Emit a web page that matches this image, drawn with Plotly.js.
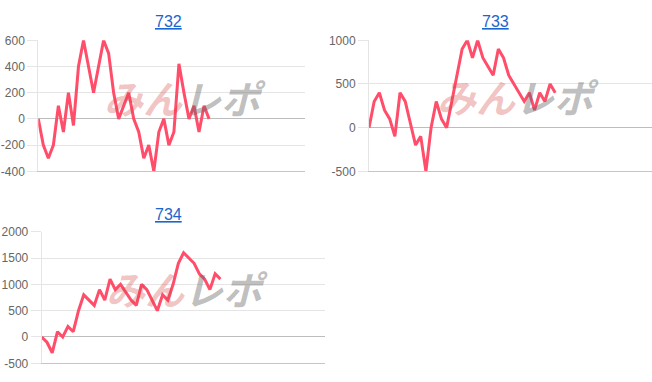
<!DOCTYPE html>
<html>
<head>
<meta charset="utf-8">
<script src="https://cdn.plot.ly/plotly-3.0.1.min.js"></script>
<style>html,body{margin:0;padding:0;background:#fff;}#chart{width:652px;height:382px;}</style>
</head>
<body>
<div id="chart"></div>
<script>
// Chart titles (machine numbers)
const titles = ["732", "733", "734"];

// Series values (one point per game step)
const values732 = [0, -200, -300, -200, 100, -100, 200, -50, 400, 600, 400, 200, 400, 600, 500, 200, 0, 100, 200, 0, -100, -300, -200, -400, -100, 0, -200, -100, 420, 200, 0, 100, -100, 100, 0];
const values733 = [0, 300, 400, 200, 100, -100, 400, 300, 50, -200, -100, -500, 0, 300, 100, 0, 300, 600, 900, 1000, 800, 1000, 800, 700, 600, 900, 800, 600, 500, 400, 300, 400, 200, 400, 300, 500, 400];
const values734 = [0, -100, -300, 100, 0, 200, 100, 500, 800, 700, 600, 900, 700, 1100, 900, 1000, 850, 700, 600, 1000, 900, 700, 500, 800, 700, 1000, 1400, 1600, 1500, 1400, 1200, 1100, 900, 1200, 1100];

// Y tick values
const yTicks732 = [-400, -200, 0, 200, 400, 600];
const yTicks733 = [-500, 0, 500, 1000];
const yTicks734 = [-500, 0, 500, 1000, 1500, 2000];

const W = 652, H = 382;
const idx = arr => arr.map((_, i) => i);
const lineColor = "rgb(255,77,106)";
const mk = (vals, xa, ya) => ({
  x: idx(vals), y: vals, xaxis: xa, yaxis: ya, type: "scatter", mode: "lines",
  line: {color: lineColor, width: 3}, hoverinfo: "skip"
});

const traces = [mk(values732, "x", "y"), mk(values733, "x2", "y2"), mk(values734, "x3", "y3")];

const px = v => v / W;
const py = v => 1 - v / H;

const xa = (dom, range, anchor) => ({
  domain: dom, range: range, anchor: anchor, showgrid: false, zeroline: false,
  showticklabels: false, ticks: "", showline: true, linecolor: "#c6c6c6", linewidth: 1, fixedrange: true
});
const ya = (dom, range, ticks, anchor) => ({
  domain: dom, range: range, anchor: anchor, tickvals: ticks, ticktext: ticks.map(String),
  showgrid: true, gridcolor: "#e5e5e5", gridwidth: 1,
  zeroline: true, zerolinecolor: "#bdbdbd", zerolinewidth: 1,
  showline: true, linecolor: "#e5e5e5", linewidth: 1,
  ticks: "outside", ticklen: 10, tickcolor: "#e5e5e5", tickwidth: 1,
  tickfont: {family: "Liberation Sans, Arial, sans-serif", size: 12, color: "#666"},
  fixedrange: true
});

const topDom = [py(171.3), py(40.3)];
const botDom = [py(363.3), py(231.7)];

const titleAnn = (t, x, y) => ({
  text: '<span style="text-decoration:underline">' + t + '</span>', xref: "paper", yref: "paper",
  x: x, y: y, xanchor: "center", yanchor: "middle", showarrow: false,
  font: {family: "Liberation Sans, Arial, sans-serif", size: 16, color: "#1a66cc"}
});
const wmAnn = (x, y) => ({
  text: '<i><b><span style="color:rgba(214,70,70,0.32)">みん</span><span style="color:rgba(100,100,100,0.42)">レポ</span></b></i>',
  xref: "paper", yref: "paper", x: x, y: y, xanchor: "center", yanchor: "middle", showarrow: false,
  font: {family: "Noto Sans CJK JP, sans-serif", size: 39, weight: 900}
});

const layout = {
  width: W, height: H, margin: {l: 0, r: 0, t: 0, b: 0},
  paper_bgcolor: "#fff", plot_bgcolor: "rgba(0,0,0,0)", showlegend: false, hovermode: false,
  xaxis: xa([px(38.3), px(305)], [0, 53.1], "y"),
  yaxis: ya(topDom, [-400, 600], yTicks732, "x"),
  xaxis2: xa([px(369), 1], [0, 54.7], "y2"),
  yaxis2: ya(topDom, [-500, 1000], yTicks733, "x2"),
  xaxis3: xa([px(41.7), px(325)], [0, 53.9], "y3"),
  yaxis3: ya(botDom, [-500, 2000], yTicks734, "x3"),
  annotations: [
    titleAnn(titles[0], px(168.3), py(21.7)),
    titleAnn(titles[1], px(495.6), py(21.7)),
    titleAnn(titles[2], px(168.3), py(214)),
    wmAnn(px(185), py(97)),
    wmAnn(px(518), py(96)),
    wmAnn(px(187), py(288))
  ]
};

Plotly.newPlot("chart", traces, layout, {displayModeBar: false, staticPlot: true});
</script>
</body>
</html>
